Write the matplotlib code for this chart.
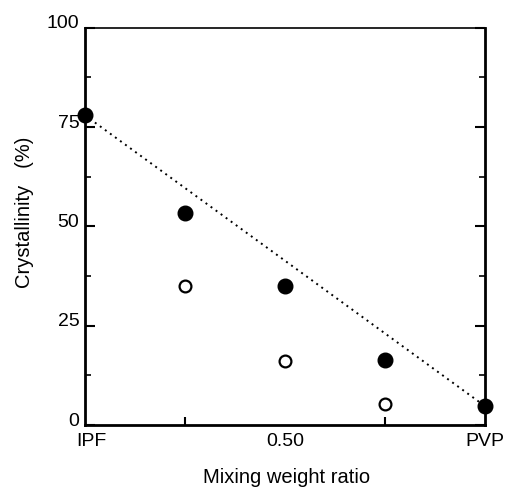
import matplotlib
matplotlib.use("Agg")
import matplotlib.pyplot as plt
from matplotlib.ticker import MultipleLocator
from matplotlib.transforms import ScaledTranslation

plt.rcParams['font.family'] = ['Liberation Sans', 'DejaVu Sans']

ratio_filled = [0.0, 0.25, 0.50, 0.75, 1.0]
cryst_filled = [78, 53.5, 35, 16.5, 4.8]
ratio_open = [0.25, 0.50, 0.75]
cryst_open = [35, 16, 5.3]
line_x = [0.0, 1.0]
line_y = [78, 4.8]
xtick_pos = [0.0, 0.5, 1.0]
xtick_labels = ['IPF', '0.50', 'PVP']
ytick_pos = [0, 25, 50, 75, 100]

fig = plt.figure(figsize=(5.05, 4.88), dpi=100)
ax = fig.add_axes([0.168, 0.129, 0.792, 0.814])

ax.plot(line_x, line_y, linestyle=(0, (1, 2.2)), color='black', linewidth=1.4, zorder=1)
ax.plot(ratio_filled, cryst_filled, 'o', color='black', markersize=10.5, zorder=3, clip_on=False)
ax.plot(ratio_open, cryst_open, 'o', markerfacecolor='white', markeredgecolor='black',
        markeredgewidth=1.6, markersize=8.5, zorder=3, clip_on=False)

ax.set_xlim(0, 1)
ax.set_ylim(0, 100)
ax.set_xticks(xtick_pos)
ax.set_xticklabels(xtick_labels)
ax.set_xticks([0.25, 0.5, 0.75], minor=True)
ax.set_yticks(ytick_pos)
ax.yaxis.set_minor_locator(MultipleLocator(12.5))

ax.tick_params(axis='both', which='both', direction='in', labelsize=14)
ax.tick_params(axis='x', which='major', length=0, pad=6)
ax.tick_params(axis='x', which='minor', length=6, width=1.5)
ax.tick_params(axis='y', which='major', length=7, width=1.5, right=True, pad=4)
ax.tick_params(axis='y', which='minor', length=4, width=1.2, right=True)

# y tick labels sit slightly above their ticks in the original
off = ScaledTranslation(0, 6 / 100, fig.dpi_scale_trans)
for lab in ax.get_yticklabels():
    lab.set_transform(lab.get_transform() + off)
# IPF label sits a little right of the axis corner
ipf = ax.get_xticklabels()[0]
ipf.set_transform(ipf.get_transform() + ScaledTranslation(7 / 100, 0, fig.dpi_scale_trans))

for s in ['left', 'bottom', 'right']:
    ax.spines[s].set_linewidth(2.0)
ax.spines['top'].set_linewidth(1.2)

ax.set_xlabel('Mixing weight ratio', fontsize=14.5)
ax.xaxis.set_label_coords(0.505, -0.108)
ax.xaxis.label.set_va('top')
ax.set_ylabel('Crystallinity   (%)', fontsize=14.5)
ax.yaxis.set_label_coords(-0.127, 0.535)

fig.savefig('out.png', dpi=100)
